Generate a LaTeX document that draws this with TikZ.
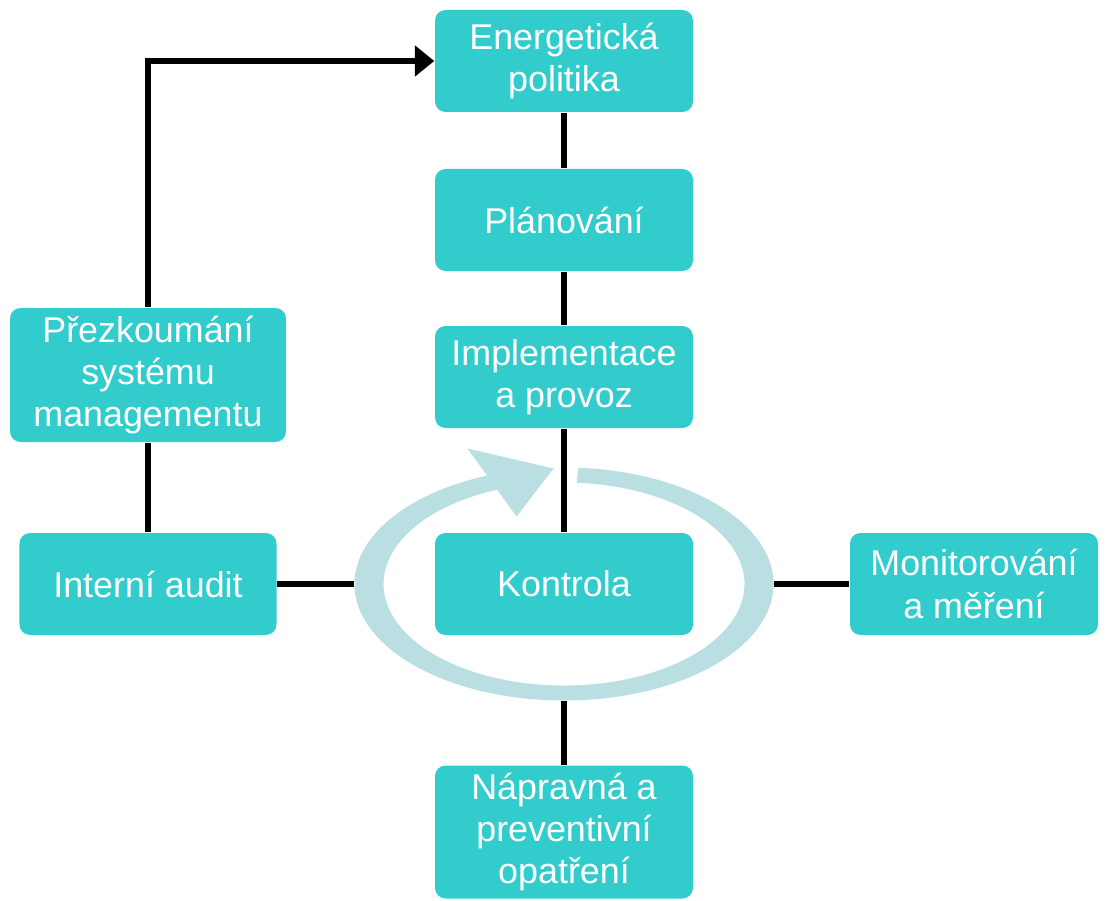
\documentclass[tikz,border=0pt]{standalone}
\usepackage{fontspec}
\setmainfont{Liberation Sans}
\usetikzlibrary{arrows.meta,shapes.geometric}
\definecolor{boxteal}{RGB}{51,204,204}
\definecolor{ringblue}{RGB}{185,223,226}
\begin{document}
\begin{tikzpicture}[box/.style={rectangle, rounded corners=3pt, fill=boxteal, text=white, align=center, minimum width=2.58cm, minimum height=1.02cm, inner sep=2pt, font=\fontsize{10.2}{12}\selectfont}, link/.style={line width=1.6pt}]
		\useasboundingbox (0,0) rectangle (11.06,9.00);
		\node[box] (policy) at (5.64, 8.39) {Energetická\\politika};
		\node[box] (plan) at (5.64, 6.80) {Plánování};
		\node[box] (impl) at (5.64, 5.23) {Implementace\\a provoz};
		\node[box] (check) at (5.64, 3.16) {Kontrola};
		\node[box, minimum height=1.33cm] (act) at (5.64, 0.68) {Nápravná a\\preventivní\\opatření};
		\node[box, minimum width=2.57cm] (audit) at (1.48, 3.16) {Interní audit};
		\node[box, minimum width=2.76cm, minimum height=1.34cm] (review) at (1.48, 5.25) {Přezkoumání\\systému\\managementu};
		\node[box, minimum width=2.48cm] (monitor) at (9.74, 3.16) {Monitorování\\a měření};
		\node[ellipse, minimum width=4.19cm, minimum height=2.33cm, inner sep=0pt] (loop) at (5.64, 3.16) {};
		% cycle arrow round the check box
		\fill[ringblue] ([shift={(86:2.095 and 1.165)}]loop.center) arc[start angle=86, end angle=-249, x radius=2.095, y radius=1.165]
			-- ([shift={(-249:1.805 and 1.015)}]loop.center) arc[start angle=-249, end angle=86, x radius=1.805, y radius=1.015] -- cycle;
		\fill[ringblue] (4.675, 4.515) -- (5.535, 4.315) -- (5.165, 3.835) -- cycle;
		\draw[link] (policy) -- (plan);
		\draw[link] (plan) -- (impl);
		\draw[link] (impl) -- (check);
		\draw[link] (audit) -- (loop.west);
		\draw[link] (loop.east) -- (monitor);
		\draw[link] (loop.south) -- (act);
		\draw[link] (review) -- (audit);
		\draw[link, -{Triangle[width=8.5pt, length=5.5pt]}] (review.north) |- (policy.west);
	\end{tikzpicture}
\end{document}
